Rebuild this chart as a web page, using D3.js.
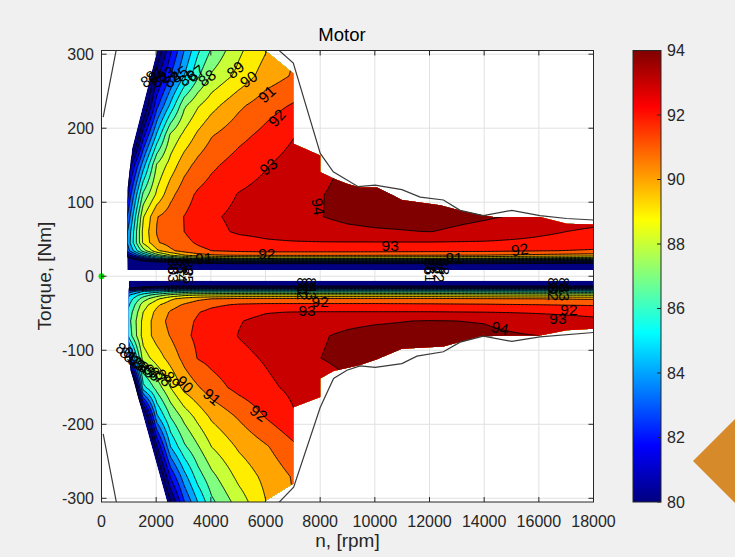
<!DOCTYPE html>
<html>
<head>
<meta charset="utf-8">
<script src="https://cdn.jsdelivr.net/npm/d3@7"></script>
<style>
  body { margin: 0; background: #f0f0f0; }
  text { font-family: "Liberation Sans", Arial, sans-serif; }
</style>
</head>
<body>
<script>
// efficiency table, speed columns [rpm]
var speedRpm = [800, 1000, 1500, 2000, 2500, 3000, 3500, 4000, 5000, 6000, 7000, 8000, 9000, 10000, 12000, 14000, 16000, 18000];

// motoring side (positive torque), rows [Nm]
var torqueMotor = [8, 16, 20, 24, 28, 34, 45, 60, 80, 110, 150, 190, 230, 270, 305];
var effMotor = [
    [70, 70, 70, 70, 70, 70, 70, 70, 70, 70, 70, 70, 70, 70, 70, 70, 70, 70],
    [74, 75, 76.5, 77.5, 78, 78.5, 79, 79.2, 79.5, 79.5, 79.5, 79.5, 79.5, 79.5, 79.5, 79.5, 79.3, 79.2],
    [76, 78, 80, 81, 81.5, 82, 82.5, 83, 83.5, 83.5, 83.5, 83.5, 83.5, 83.5, 83.5, 83.3, 83, 82.8],
    [78, 80, 82.5, 85, 86.5, 87.5, 88.2, 88.6, 88.9, 89, 89, 89, 89, 89, 89, 88.9, 88.7, 88.5],
    [80, 82, 85, 87.5, 89, 90, 90.6, 90.9, 91.1, 91.15, 91.15, 91.15, 91.15, 91.1, 91.05, 91, 90.8, 90.6],
    [82, 84, 87.5, 89.8, 90.8, 91.4, 91.8, 92, 92.2, 92.3, 92.3, 92.3, 92.3, 92.3, 92.25, 92.2, 92.05, 91.9],
    [83, 84.8, 89.2, 90.9, 91.4, 91.8, 92.1, 92.3, 92.6, 92.85, 92.92, 92.95, 92.95, 92.95, 92.95, 92.9, 92.75, 92.5],
    [83, 84.6, 89.3, 91.05, 91.6, 92, 92.35, 92.7, 93.15, 93.3, 93.5, 93.65, 93.8, 93.9, 94.02, 93.7, 93.2, 92.8],
    [82, 83.8, 88.9, 90.95, 91.5, 92.02, 92.4, 92.85, 93.25, 93.45, 93.7, 93.98, 94.2, 94.3, 94.35, 94.1, 93.8, 93.5],
    [80, 82.5, 87.2, 89.2, 90.7, 91.6, 92.15, 92.47, 93.05, 93.35, 93.65, 93.97, 94.2, 94.3, 94.3, 94.2, 94, 93.7],
    [72, 80.5, 84.5, 88.1, 89.4, 90.6, 91.3, 91.8, 92.45, 92.93, 93.4, 93.8, 94.1, 94.2, 94.2, 94, 93.8, 93.5],
    [72, 76, 81.6, 85.2, 88.2, 89.25, 90.2, 90.93, 91.7, 92.3, 92.95, 93.2, 93.4, 93.5, 93.5, 93.5, 93.5, 93.5],
    [72, 74, 78.5, 82.7, 85.25, 87.8, 88.9, 89.65, 90.8, 91.6, 92.1, 92.5, 92.7, 92.8, 92.8, 92.8, 92.8, 92.8],
    [72, 74, 77.5, 80.7, 83, 85, 86.85, 88.15, 89.3, 90.5, 91.1, 91.7, 92, 92, 92, 92, 92, 92],
    [72, 74, 77, 79, 81.8, 84, 85.8, 87.1, 88.8, 89.95, 91, 91.5, 92, 92, 92, 92, 92, 92]
];

// generating side (negative torque)
var torqueGen = [-6, -12, -16, -20, -25, -30, -38, -48, -60, -80, -110, -150, -190, -230, -270, -305];
var effGen = [
    [70, 70, 70, 70, 70, 70, 70, 70, 70, 70, 70, 70, 70, 70, 70, 70, 70, 70],
    [75, 77, 78.5, 79, 79.5, 79.5, 79.5, 79.5, 79.5, 79.5, 79.5, 79.5, 79.5, 79.5, 79.5, 79.5, 79.5, 79.5],
    [78, 80.5, 82, 82.5, 83, 83, 83, 83, 83, 83, 83, 83, 83, 83, 83, 83, 83, 83],
    [81, 83.5, 85, 85.5, 86, 86.3, 86.5, 86.5, 86.5, 86.5, 86.5, 86.5, 86.5, 86.5, 86.5, 86.5, 86.4, 86.3],
    [83, 85, 86.5, 87.5, 88.3, 88.8, 89, 89.1, 89.2, 89.2, 89.2, 89.2, 89.2, 89.2, 89.2, 89.1, 89, 88.9],
    [84, 85.5, 87.5, 88.8, 89.8, 90.4, 90.8, 91, 91.2, 91.2, 91.2, 91.2, 91.2, 91.2, 91.2, 91.1, 91, 90.9],
    [85, 86, 88.5, 89.8, 90.6, 91.1, 91.5, 91.8, 92.1, 92.2, 92.2, 92.2, 92.2, 92.2, 92.15, 92.1, 92, 91.9],
    [85.5, 86.5, 89, 90.3, 91.1, 91.6, 91.95, 92.25, 92.7, 92.95, 93.02, 93.05, 93.05, 93.05, 93.05, 93, 92.9, 92.75],
    [86, 86.8, 89.3, 90.5, 91.3, 91.75, 92.1, 92.4, 92.95, 93.25, 93.5, 93.65, 93.8, 93.9, 94.05, 93.95, 93.5, 93.2],
    [85, 86.5, 89.4, 90.4, 91.05, 91.8, 92.2, 92.5, 93.03, 93.35, 93.6, 93.93, 94.15, 94.3, 94.35, 94.2, 94, 93.6],
    [75, 83, 88.5, 89.5, 90.4, 91.3, 92.05, 92.3, 92.75, 93.1, 93.5, 94, 94.2, 94.3, 94.3, 94.2, 94, 93.7],
    [72, 75, 85.6, 87.4, 89, 90.3, 90.9, 91.55, 92.3, 92.8, 93.2, 93.6, 93.9, 94, 94, 94, 93.8, 93.5],
    [72, 74, 78, 84.7, 87, 88.3, 89.3, 90.15, 91.1, 92.05, 92.9, 93.3, 93.5, 93.5, 93.5, 93.5, 93.5, 93.5],
    [72, 73, 75, 80.8, 85, 86.8, 87.9, 89, 90.15, 90.9, 91.8, 92.3, 92.6, 92.8, 92.8, 92.8, 92.8, 92.8],
    [72, 73, 75, 78, 82.1, 84.6, 86.5, 87.7, 89.3, 90.3, 91.1, 91.6, 92, 92, 92, 92, 92, 92],
    [72, 73, 75, 77, 79.8, 82.9, 85, 86.75, 88.45, 90, 91, 91.5, 92, 92, 92, 92, 92, 92]
];

var levels = d3.range(80, 95);

// measured area of the map [rpm, Nm]
var motorArea = [[945, 8.5], [18000, 8.5], [18000, 70], [17020, 71], [16040, 80], [14340, 80], [13850, 83],
    [13120, 89], [12390, 96], [10990, 103], [10680, 109], [10080, 120], [9460, 120], [8980, 125], [8490, 132],
    [8004, 141], [8004, 163], [7027, 179], [7027, 274], [5993, 305], [2034, 305], [1120, 173], [960, 120], [939, 30]];
var genArea = [[1000, -6], [18000, -6], [18000, -71], [17020, -73], [16040, -80], [13850, -81], [12510, -95],
    [10990, -98], [10080, -112], [9460, -120], [9100, -123], [8490, -128], [8004, -138], [8004, -163], [7027, -177],
    [7027, -280], [5930, -305], [2400, -305], [1060, -127], [1000, -100]];

// torque envelope
var envMotor = [[62, 215], [540, 306], [6470, 306], [7017, 288], [8004, 166], [8479, 141], [9393, 121], [10014, 123],
    [10990, 117], [11660, 107], [12510, 103], [13120, 89], [13970, 82], [15010, 89], [16040, 82], [17020, 78], [18000, 76]];
var envGen = [[62, -213], [548, -306], [6480, -306], [7030, -285], [8004, -177], [8490, -138], [8980, -127], [9460, -121],
    [10014, -123], [10990, -118], [11540, -108], [12510, -102], [13120, -89], [13970, -81], [15010, -88], [16040, -82], [18000, -76]];

// contour labels: [level, rpm, Nm, angle]
var motorLabels = [
    [88, 3860, 268, -38], [89, 4900, 279, -38], [90, 5380, 266, -35], [91, 6050, 246, -42], [92, 6420, 214, -48],
    [93, 6110, 148, -38], [94, 7930, 94, 80], [91, 3740, 24, -3], [92, 6050, 31, 0], [93, 10560, 42, 0], [92, 15300, 36, -8],
    [80, 1750, 266, -30], [81, 1950, 273, -30], [82, 2150, 266, -30], [83, 2350, 273, -30], [84, 2600, 266, -35],
    [85, 2850, 273, -35], [86, 3150, 268, -35], [87, 3450, 274, -38],
    [80, 2650, 13, 90], [81, 2950, 13, 90], [82, 3200, 11, 90], [83, 2650, 3, 90], [84, 2950, 3, 90], [85, 3200, 1, 90],
    [86, 12000, 13, 90], [87, 12300, 13, 90], [88, 12550, 13, 90], [81, 12050, 3, 90], [82, 12350, 3, 90], [91, 12900, 25, 0]
];
var genLabels = [
    [80, 7350, -13, 90], [81, 7700, -13, 90], [82, 7350, -21, 90], [83, 7700, -21, 90], [92, 8000, -34, 0], [93, 7520, -46, 0],
    [80, 16550, -13, 90], [81, 16950, -13, 90], [82, 16550, -22, 90], [83, 16950, -22, 90], [92, 17100, -45, 0],
    [93, 16700, -57, 0], [94, 14580, -70, 12],
    [80, 850, -100, 30], [81, 1000, -106, 30], [82, 1150, -112, 30], [83, 1300, -117, 35], [84, 1450, -121, 35],
    [85, 1650, -126, 40], [86, 1850, -130, 45], [87, 2050, -134, 45], [88, 2280, -137, 50], [89, 2580, -140, 50],
    [90, 3050, -146, 45], [91, 4040, -163, 40], [92, 5750, -185, 35]
];

var operatingPoint = [[0, 0]];
var xTicks = d3.range(0, 18001, 2000);
var yTicks = d3.range(-300, 301, 100);
var cbTicks = d3.range(80, 95, 2);

var svgWidth = 735;
var svgHeight = 557;

var svg = d3.select("body").append("svg")
    .attr("width", svgWidth)
    .attr("height", svgHeight);

svg.append("rect").attr("width", svgWidth).attr("height", svgHeight).attr("fill", "#f0f0f0");

var xScale = d3.scaleLinear().domain([0, 18000]).range([101.5, 593.5]);
var yScale = d3.scaleLinear().domain([-305, 305]).range([502, 50.5]);
var cScale = d3.scaleLinear().domain([80, 94]).range([502, 50.5]);

// matlab jet
function jet(v) {
    var t = Math.max(0, Math.min(1, (v - 80) / 14));
    var f = function(k) { return Math.round(255 * Math.max(0, Math.min(1, 1.5 - Math.abs(4 * t - k)))); };
    return "rgb(" + f(3) + "," + f(2) + "," + f(1) + ")";
}

function sampler(speeds, torques, table) {
    var si = d3.scaleLinear().domain(speeds).range(d3.range(speeds.length)).clamp(true);
    var ti = d3.scaleLinear().domain(torques).range(d3.range(torques.length)).clamp(true);
    return function(s, t) {
        var fi = si(s), fj = ti(t);
        var i = Math.min(Math.floor(fi), speeds.length - 2);
        var j = Math.min(Math.floor(fj), torques.length - 2);
        var u = fi - i, v = fj - j;
        return table[j][i] * (1 - u) * (1 - v) + table[j][i + 1] * u * (1 - v)
            + table[j + 1][i] * (1 - u) * v + table[j + 1][i + 1] * u * v;
    };
}

var defs = svg.append("defs");
defs.append("clipPath").attr("id", "axClip").append("rect")
    .attr("x", xScale(0)).attr("y", yScale(305))
    .attr("width", xScale(18000) - xScale(0)).attr("height", yScale(-305) - yScale(305));

// axes background + grid
svg.append("rect")
    .attr("x", xScale(0)).attr("y", yScale(305))
    .attr("width", xScale(18000) - xScale(0)).attr("height", yScale(-305) - yScale(305))
    .attr("fill", "white");

var grid = svg.append("g").attr("stroke", "#e1e1e1").attr("stroke-width", 1);
grid.selectAll(".gx").data(xTicks).enter().append("line")
    .attr("x1", d => xScale(d)).attr("x2", d => xScale(d))
    .attr("y1", yScale(305)).attr("y2", yScale(-305));
grid.selectAll(".gy").data(yTicks).enter().append("line")
    .attr("x1", xScale(0)).attr("x2", xScale(18000))
    .attr("y1", d => yScale(d)).attr("y2", d => yScale(d));

var areaLine = d3.line().x(d => xScale(d[0])).y(d => yScale(d[1]));

function drawMap(torques, table, area, tEnd, id) {
    var sample = sampler(speedRpm, torques, table);
    var ds = 50, ny = 313, dt = tEnd / (ny - 1);
    var nx = Math.round(18600 / ds) + 1;
    var vals = new Array(nx * ny);
    for (var j = 0; j < ny; j++) {
        for (var i = 0; i < nx; i++) {
            vals[j * nx + i] = sample(i * ds, j * dt);
        }
    }
    var proj = d3.geoTransform({
        point: function(px, py) { this.stream.point(xScale(px * ds), yScale(py * dt)); }
    });
    var path = d3.geoPath(proj);
    var contours = d3.contours().size([nx, ny]).thresholds(levels)(vals);

    defs.append("clipPath").attr("id", id).append("path").attr("d", areaLine(area) + "Z");

    var g = svg.append("g").attr("clip-path", "url(#" + id + ")");
    g.append("path").attr("d", areaLine(area) + "Z").attr("fill", jet(80));
    g.selectAll(".band").data(contours).enter().append("path")
        .attr("d", path)
        .attr("fill", d => jet(d.value));
    g.selectAll(".iso").data(contours).enter().append("path")
        .attr("d", path)
        .attr("fill", "none")
        .attr("stroke", "#000")
        .attr("stroke-width", 0.95);
}

drawMap(torqueMotor, effMotor, motorArea, 312, "clipMotor");
drawMap(torqueGen, effGen, genArea, -312, "clipGen");

// envelope
var envG = svg.append("g").attr("clip-path", "url(#axClip)");
[envMotor, envGen].forEach(function(env) {
    envG.append("path").attr("d", areaLine(env))
        .attr("fill", "none").attr("stroke", "#3a3a3a").attr("stroke-width", 1.2);
});

// contour labels
var labG = svg.append("g");
labG.selectAll("text").data(motorLabels.concat(genLabels)).enter().append("text")
    .attr("transform", d => `translate(${xScale(d[1])},${yScale(d[2])}) rotate(${d[3]})`)
    .attr("text-anchor", "middle")
    .attr("dominant-baseline", "central")
    .attr("font-size", 15.5)
    .attr("fill", "#000")
    .text(d => d[0]);

// operating point
svg.selectAll(".op").data(operatingPoint).enter().append("circle")
    .attr("cx", d => xScale(d[0])).attr("cy", d => yScale(d[1]))
    .attr("r", 3).attr("fill", "#00e600");

// box and ticks
var axG = svg.append("g").attr("stroke", "#262626").attr("stroke-width", 1);
axG.append("rect")
    .attr("x", xScale(0)).attr("y", yScale(305))
    .attr("width", xScale(18000) - xScale(0)).attr("height", yScale(-305) - yScale(305))
    .attr("fill", "none");
xTicks.forEach(function(t) {
    axG.append("line").attr("x1", xScale(t)).attr("x2", xScale(t)).attr("y1", yScale(-305)).attr("y2", yScale(-305) - 5);
    axG.append("line").attr("x1", xScale(t)).attr("x2", xScale(t)).attr("y1", yScale(305)).attr("y2", yScale(305) + 5);
});
yTicks.forEach(function(t) {
    axG.append("line").attr("x1", xScale(0)).attr("x2", xScale(0) + 5).attr("y1", yScale(t)).attr("y2", yScale(t));
    axG.append("line").attr("x1", xScale(18000)).attr("x2", xScale(18000) - 5).attr("y1", yScale(t)).attr("y2", yScale(t));
});

svg.selectAll(".xt").data(xTicks).enter().append("text")
    .attr("x", d => xScale(d)).attr("y", 527)
    .attr("text-anchor", "middle").attr("font-size", 16).attr("fill", "#262626")
    .text(d => d);
svg.selectAll(".yt").data(yTicks).enter().append("text")
    .attr("x", 94).attr("y", d => yScale(d))
    .attr("text-anchor", "end").attr("dominant-baseline", "central")
    .attr("font-size", 16).attr("fill", "#262626")
    .text(d => d);

svg.append("text").attr("x", 342).attr("y", 41)
    .attr("text-anchor", "middle").attr("font-size", 18.5).attr("fill", "#000")
    .text("Motor");
svg.append("text").attr("x", 347.5).attr("y", 547)
    .attr("text-anchor", "middle").attr("font-size", 19).attr("fill", "#262626")
    .text("n, [rpm]");
svg.append("text").attr("transform", "translate(51,276) rotate(-90)")
    .attr("text-anchor", "middle").attr("font-size", 19).attr("fill", "#262626")
    .text("Torque, [Nm]");

// colorbar
var grad = defs.append("linearGradient").attr("id", "jetGrad")
    .attr("x1", 0).attr("y1", 1).attr("x2", 0).attr("y2", 0);
d3.range(0, 65).forEach(function(k) {
    grad.append("stop").attr("offset", k / 64).attr("stop-color", jet(80 + 14 * k / 64));
});
var cbX = 633, cbW = 28;
svg.append("rect").attr("x", cbX).attr("y", cScale(94))
    .attr("width", cbW).attr("height", cScale(80) - cScale(94))
    .attr("fill", "url(#jetGrad)").attr("stroke", "#262626").attr("stroke-width", 1);
svg.selectAll(".cbt").data(cbTicks).enter().append("line")
    .attr("x1", cbX + cbW - 4).attr("x2", cbX + cbW)
    .attr("y1", d => cScale(d)).attr("y2", d => cScale(d))
    .attr("stroke", "#262626");
svg.selectAll(".cbl").data(cbTicks).enter().append("text")
    .attr("x", 667).attr("y", d => cScale(d))
    .attr("dominant-baseline", "central").attr("font-size", 16).attr("fill", "#262626")
    .text(d => d);

// slide decoration at the corner
svg.append("polygon")
    .attr("points", "693,461 735,419 777,461 735,503")
    .attr("fill", "#d68a2a");
</script>
</body>
</html>
